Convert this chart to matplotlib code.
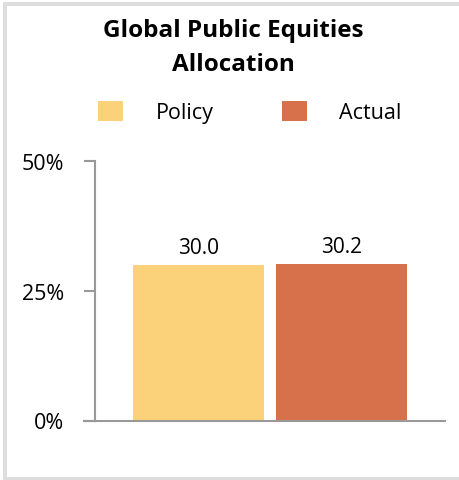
import matplotlib.pyplot as plt
from matplotlib.lines import Line2D
from matplotlib.patches import Patch

# Data
series = ['Policy', 'Actual']
values = [30.0, 30.2]
colors = ['#FBD27A', '#D6714B']
yticks = [0, 25, 50]
ytick_labels = ['0%', '25%', '50%']

axis_gray = '#999999'
border_gray = '#DDDDDD'

fig = plt.figure(figsize=(4.59, 4.81), dpi=100)
ax = fig.add_axes([95 / 459, 1 - 421.5 / 481, 350 / 459, 261.5 / 481])

pos = list(range(len(series)))
bars = ax.bar(pos, values, width=0.92, color=colors)
for p, v in zip(pos, values):
    ax.annotate(f'{v:.1f}', (p, v), xytext=(0, 8.5), textcoords='offset points',
                ha='center', va='baseline', fontsize=15, family='Open Sans')

ax.set_xlim(-0.73, 1.73)
ax.set_ylim(0, 50.4)
ax.set_yticks(yticks)
ax.set_yticklabels(ytick_labels, fontsize=15.5, family='Open Sans')
ax.set_xticks([])
for side in ['top', 'right']:
    ax.spines[side].set_visible(False)
for side in ['left', 'bottom']:
    ax.spines[side].set_color(axis_gray)
    ax.spines[side].set_linewidth(1.5)
ax.spines['left'].set_bounds(0, 50)
ax.tick_params(axis='y', length=8, width=1.5, color=axis_gray, pad=14)

# x axis line extends past the y axis to the left
fig.add_artist(Line2D([84 / 459, 95 / 459], [1 - 421.5 / 481] * 2,
                      color=axis_gray, linewidth=1.5))

fig.text(233 / 459, 1 - 48 / 481, 'Global Public Equities\nAllocation',
         ha='center', va='center', fontsize=17.5, fontweight='bold',
         family='Open Sans', linespacing=1.55)

handles = [Patch(facecolor=c, edgecolor='none') for c in colors]
fig.legend(handles, series, loc='center', bbox_to_anchor=(250 / 459, 1 - 113 / 481),
           ncol=2, frameon=False, prop={'family': 'Open Sans', 'size': 15.5},
           handlelength=1.15, handleheight=1.1, handletextpad=1.5,
           columnspacing=3.2)

# light gray frame on left, top and bottom
lw = 4 * 72 / 100
fig.add_artist(Line2D([5 / 459, 1], [1 - 5 / 481] * 2, color=border_gray, linewidth=lw))
fig.add_artist(Line2D([5 / 459] * 2, [1 - 5 / 481, 1 - 479.5 / 481], color=border_gray, linewidth=lw))
fig.add_artist(Line2D([5 / 459, 1], [1 - 479.5 / 481] * 2, color=border_gray, linewidth=lw))

fig.savefig('out.png', dpi=100)
